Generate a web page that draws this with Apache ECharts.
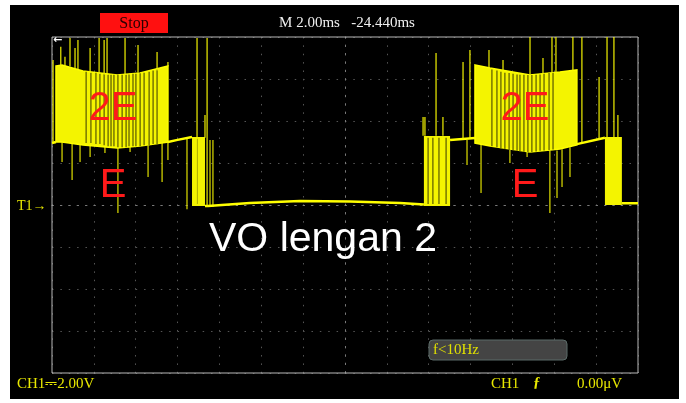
<!DOCTYPE html>
<html><head><meta charset="utf-8">
<script src="https://cdn.jsdelivr.net/npm/echarts@6/dist/echarts.min.js"></script>
<style>html,body{margin:0;padding:0;background:#fff;} #c{width:686px;height:403px;}</style>
</head><body><div id="c"></div>
<script>
// ---- data (time in ms relative to screen centre, voltage in V; 2 ms/div, 2 V/div) ----
const levelELeft  = [[-14, 2.95], [-13.81, 3.0]];
const levelEMid1  = [[-8.46, 3.0], [-8.0, 3.1], [-7.31, 3.24]];
const levelLow1   = [[-6.69, -0.05], [-6.55, -0.05], [-4.54, 0.1], [-2.15, 0.19], [0.24, 0.17], [2.63, 0.1], [3.77, 0.02]];
const levelEMid2  = [[5.02, 3.1], [6.21, 3.19]];
const levelEMid3  = [[11.08, 2.9], [12.42, 3.2]];
const levelLow2   = [[13.23, 0.08], [14, 0.08]];

const bandLeftX   = [-13.81, -13.52, -12.52, -10.89, -9.79, -8.46];
const bandLeftTop = [6.62, 6.67, 6.38, 6.19, 6.29, 6.62];
const bandLeftBot = [3.0, 3.0, 2.86, 2.71, 2.81, 3.0];
const bandRightX   = [6.21, 6.93, 8.84, 10.27, 11.08];
const bandRightTop = [6.67, 6.52, 6.19, 6.33, 6.43];
const bandRightBot = [2.95, 2.81, 2.52, 2.67, 2.86];

// switching blocks between 0 and E: [x0, x1, bottom, top]
const e0Blocks = [[-7.31, -6.69, -0.05, 3.24], [3.77, 5.02, -0.05, 3.29], [12.42, 13.23, 0.0, 3.24]];

// dark gaps inside the switching bands: [x, low, high]
const gaps = [
  [-12.37, 2.95, 6.35], [-12.14, 2.95, 6.3], [-11.90, 2.9, 6.3], [-11.71, 2.9, 6.25], [-11.51, 2.85, 6.25],
  [-11.32, 2.8, 6.2], [-11.18, 2.8, 6.2], [-11.04, 2.8, 6.2], [-10.85, 2.75, 6.2], [-10.65, 2.75, 6.2],
  [-10.46, 2.75, 6.2], [-10.32, 2.8, 6.22], [-10.13, 2.8, 6.25], [-9.99, 2.8, 6.25], [-9.79, 2.8, 6.27],
  [-9.60, 2.85, 6.3], [-9.36, 2.85, 6.35], [-9.17, 2.9, 6.4], [-8.98, 2.9, 6.45],
  [7.02, 2.8, 6.45], [7.26, 2.75, 6.4], [7.45, 2.7, 6.35], [7.64, 2.65, 6.3], [7.84, 2.62, 6.28],
  [8.03, 2.6, 6.25], [8.22, 2.58, 6.22], [8.36, 2.56, 6.2], [8.55, 2.54, 6.2], [8.74, 2.52, 6.19],
  [8.93, 2.52, 6.19], [9.13, 2.55, 6.2], [9.32, 2.58, 6.22], [9.51, 2.6, 6.25], [9.75, 2.62, 6.28], [9.94, 2.64, 6.3],
  [3.97, 0.05, 3.2], [4.20, 0.05, 3.2], [4.49, 0.05, 3.2], [4.83, 0.05, 3.2], [-7.05, 0.05, 3.15]
];

// glitch spikes: [x, from, to]
const spikesUp = [
  [-13.95, 3.0, 6.9], [-13.58, 6.6, 7.54], [-13.38, 6.6, 7.06], [-13.14, 6.6, 7.95], [-12.9, 6.5, 7.48],
  [-12.76, 6.45, 7.86], [-12.18, 6.3, 7.48], [-11.75, 6.25, 7.95], [-11.51, 6.2, 7.86], [-11.37, 6.2, 7.95],
  [-10.51, 6.2, 7.95], [-9.89, 6.3, 7.62], [-8.98, 6.4, 7.29], [-8.46, 6.6, 6.81], [-7.07, 0, 7.95],
  [-6.59, -0.1, 7.95], [-6.69, 3.2, 4.29],
  [3.73, 3.3, 4.19], [3.82, 3.3, 4.19], [4.35, 3.3, 7.24], [4.68, 3.3, 4.19], [5.64, 3.15, 6.81],
  [5.97, 3.15, 7.38], [6.88, 6.5, 7.38], [7.55, 6.4, 6.9], [8.84, 6.2, 8.0], [9.46, 6.25, 7.0],
  [9.89, 6.3, 8.0], [10.08, 6.3, 8.0], [10.89, 6.4, 8.0], [11.32, 3.0, 8.0], [12.14, 3.1, 6.1],
  [12.52, 3.2, 8.0], [12.85, 3.2, 8.0], [13.04, 3.2, 4.29]
];
const spikesDown = [
  [-13.52, 3.0, 2.05], [-13.04, 3.0, 1.19], [-12.66, 2.9, 2.05], [-12.18, 2.85, 2.29], [-11.47, 2.8, 2.48],
  [-10.85, 2.75, -0.38], [-10.27, 2.8, 2.52], [-9.41, 2.85, 1.33], [-8.74, 3.0, 1.1], [-8.46, 3.0, 2.14],
  [-7.55, 3.2, -0.2], [-6.45, 3.1, -0.1], [-6.31, 3.1, -0.1],
  [5.83, 3.1, 1.9], [6.5, 3.0, 0.57], [7.88, 2.7, 2.0], [8.7, 2.55, 2.29], [9.79, 2.6, -0.38],
  [10.13, 2.6, 0.33], [10.37, 2.65, 0.86], [10.75, 2.75, 1.33]
];

const xMin = -14, xMax = 14, xStep = 2;
const yMin = -8, yMax = 8, yStep = 2;

// ---- chart ----
const YEL = '#ffff00';
const chart = echarts.init(document.getElementById('c'));

function bandSeries(xs, tops, bots) {
  return {
    type: 'custom', clip: true, z: 3, data: [[xs[0], tops[0]]],
    renderItem: function (params, api) {
      const pts = [];
      for (let i = 0; i < xs.length; i++) pts.push(api.coord([xs[i], tops[i]]));
      for (let i = xs.length - 1; i >= 0; i--) pts.push(api.coord([xs[i], bots[i]]));
      return { type: 'polygon', shape: { points: pts }, style: { fill: '#f4f400', stroke: YEL, lineWidth: 1.5 } };
    }
  };
}
function vlineSeries(data, color, width, z) {
  return {
    type: 'custom', clip: true, z: z, data: data, encode: { x: 0, y: [1, 2] },
    renderItem: function (params, api) {
      const a = api.coord([api.value(0), api.value(1)]);
      const b = api.coord([api.value(0), api.value(2)]);
      return { type: 'line', shape: { x1: a[0], y1: a[1], x2: b[0], y2: b[1] }, style: { stroke: color, lineWidth: width } };
    }
  };
}
function lineSeries(data) {
  return { type: 'line', data: data, symbol: 'none', z: 4, silent: true,
           lineStyle: { color: YEL, width: 2.5 } };
}

const dotted = [1.5, 6.87];
const txt = (text, x, y, font, fill, align, extra) => Object.assign({
  type: 'text', z: 50, style: { text: text, x: x, y: y, font: font, fill: fill,
    textAlign: align || 'left', align: align || 'left', textVerticalAlign: 'middle', verticalAlign: 'middle' } }, extra || {});

chart.setOption({
  backgroundColor: '#ffffff',
  animation: false,
  grid: { left: 52, top: 37, width: 586, height: 336, show: true, borderColor: '#b8b8b8', borderWidth: 1, z: 1 },
  xAxis: { type: 'value', min: xMin, max: xMax, interval: xStep,
    axisLabel: { show: false }, axisTick: { show: false },
    axisLine: { show: true, onZero: true, lineStyle: { color: '#7a7a7a', type: dotted } },
    splitLine: { show: true, lineStyle: { color: '#555', type: dotted, width: 1 } } },
  yAxis: { type: 'value', min: yMin, max: yMax, interval: yStep,
    axisLabel: { show: false }, axisTick: { show: false },
    axisLine: { show: true, onZero: true, lineStyle: { color: '#7a7a7a', type: dotted } },
    splitLine: { show: true, lineStyle: { color: '#555', type: dotted, width: 1 } } },
  graphic: { elements: [
    { type: 'rect', z: -100, silent: true, shape: { x: 10, y: 5, width: 669, height: 394 }, style: { fill: '#000' } },
    { type: 'rect', z: 40, shape: { x: 100, y: 13, width: 68, height: 20 }, style: { fill: '#ff1010' } },
    txt('Stop', 134, 23.5, '16px "Liberation Serif"', '#2a0000', 'center'),
    txt('M 2.00ms   -24.440ms', 347, 23, '15px "Liberation Serif"', '#f0f0f0', 'center'),
    txt('←', 53, 40, 'bold 11px "DejaVu Sans"', '#ffffff', 'left'),
    txt('T1→', 17, 206, '14px "Liberation Serif"', '#e8e800', 'left'),
    { type: 'rect', z: 40, shape: { x: 429, y: 340, width: 138, height: 20, r: 4 }, style: { fill: '#444444', stroke: '#5b6b68', lineWidth: 1 } },
    txt('f<10Hz', 433, 350.5, '15px "Liberation Serif"', '#e0e000', 'left'),
    txt('CH1⎓2.00V', 17, 384, '15px "Liberation Serif"', '#e8e800', 'left'),
    txt('CH1', 491, 384, '15px "Liberation Serif"', '#e8e800', 'left'),
    txt('ƒ', 533, 383, 'bold 15px "Liberation Serif"', '#e8e800', 'left'),
    txt('0.00μV', 577, 384, '15px "Liberation Serif"', '#e8e800', 'left'),
    txt('2E', 113, 109, '40px "Liberation Sans"', '#ff1a1a', 'center'),
    txt('E', 113, 186, '40px "Liberation Sans"', '#ff1a1a', 'center'),
    txt('2E', 525, 109, '40px "Liberation Sans"', '#ff1a1a', 'center'),
    txt('E', 525, 186, '40px "Liberation Sans"', '#ff1a1a', 'center'),
    txt('VO lengan 2', 209, 240, '41px "Liberation Sans"', '#ffffff', 'left')
  ] },
  series: [
    vlineSeries(spikesDown, '#e0e000', 1.2, 2),
    bandSeries(bandLeftX, bandLeftTop, bandLeftBot),
    bandSeries(bandRightX, bandRightTop, bandRightBot),
    {
      type: 'custom', clip: true, z: 3, data: e0Blocks, encode: { x: [0, 1], y: [2, 3] },
      renderItem: function (params, api) {
        const a = api.coord([api.value(0), api.value(3)]);
        const b = api.coord([api.value(1), api.value(2)]);
        return { type: 'rect', shape: { x: a[0], y: a[1], width: b[0] - a[0], height: b[1] - a[1] }, style: { fill: '#f4f400' } };
      }
    },
    vlineSeries(gaps, '#4a4a00', 1.1, 5),
    lineSeries(levelELeft), lineSeries(levelEMid1), lineSeries(levelLow1),
    lineSeries(levelEMid2), lineSeries(levelEMid3), lineSeries(levelLow2),
    vlineSeries(spikesUp, '#f2f200', 1.2, 6)
  ]
});
</script></body></html>
